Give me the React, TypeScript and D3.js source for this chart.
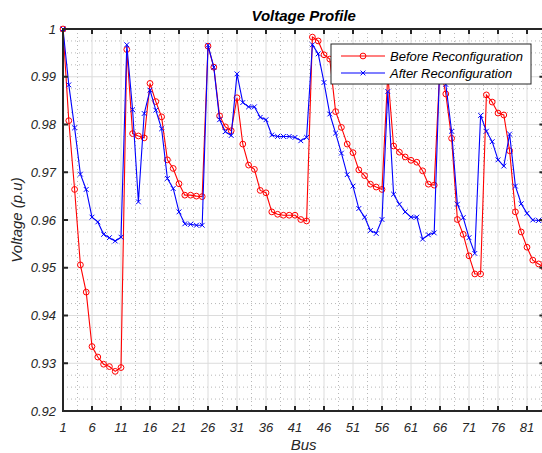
import React from "react";
import * as d3 from "d3";

const buses: number[] = Array.from({ length: 84 }, (_, i) => i + 1);

const beforeReconfig: number[] = [
  1.0, 0.9808, 0.9664, 0.9506, 0.9449, 0.9335, 0.9313, 0.9298, 0.9293, 0.9283,
  0.9291, 0.9957, 0.9781, 0.9776, 0.9772, 0.9886, 0.9848, 0.9816, 0.9726, 0.9708,
  0.9676, 0.9652, 0.9652, 0.965, 0.9649, 0.9964, 0.992, 0.9818, 0.9795, 0.9787,
  0.9856, 0.9759, 0.9715, 0.9706, 0.9662, 0.9657, 0.9617, 0.9612, 0.961, 0.961,
  0.961, 0.9601, 0.9598, 0.9983, 0.9975, 0.9946, 0.9937, 0.9827, 0.9794, 0.9759,
  0.9741, 0.9705, 0.9693, 0.9675, 0.9669, 0.9664, 0.9905, 0.9755, 0.9742, 0.9732,
  0.9725, 0.9721, 0.9703, 0.9675, 0.9673, 0.9925, 0.9864, 0.9771, 0.9601, 0.957,
  0.9525, 0.9487, 0.9487, 0.9862, 0.9847, 0.9824, 0.982, 0.9745, 0.9617, 0.9575,
  0.9543, 0.9516, 0.9508, 0.95,
];

const afterReconfig: number[] = [
  1.0, 0.9883, 0.9793, 0.9696, 0.9664, 0.9606, 0.9596, 0.957, 0.9563, 0.9556,
  0.9564, 0.9967, 0.9831, 0.9638, 0.9823, 0.9872, 0.983, 0.9791, 0.9687, 0.9666,
  0.9617, 0.9592, 0.9591, 0.9589, 0.9589, 0.9966, 0.992, 0.981, 0.9785, 0.9777,
  0.9906, 0.9846, 0.9837, 0.9837, 0.9815, 0.981, 0.9778, 0.9775, 0.9775, 0.9775,
  0.9773, 0.9766, 0.9773, 0.9967, 0.9948, 0.9888, 0.9822, 0.9782, 0.974, 0.9695,
  0.9671, 0.9624, 0.9606, 0.9578, 0.9572, 0.9601, 0.9869, 0.9654, 0.9633, 0.9617,
  0.9606, 0.9606, 0.956, 0.9569, 0.9573, 0.994, 0.9884, 0.9786, 0.9633, 0.9605,
  0.9563, 0.953, 0.9819, 0.9786, 0.9764, 0.9726, 0.9713, 0.978, 0.9671, 0.9634,
  0.9614, 0.96, 0.9599, 0.96,
];

const xTicks: number[] = [1, 6, 11, 16, 21, 26, 31, 36, 41, 46, 51, 56, 61, 66, 71, 76, 81];
const yTicks: number[] = [0.92, 0.93, 0.94, 0.95, 0.96, 0.97, 0.98, 0.99, 1.0];
const yTickLabels: string[] = ["0.92", "0.93", "0.94", "0.95", "0.96", "0.97", "0.98", "0.99", "1"];
const seriesNames: string[] = ["Before Reconfiguration", "After Reconfiguration"];

const W = 542;
const H = 453;
const L = 63;
const R = 544.4;
const T = 29;
const B = 411;
const FONT = "'Liberation Sans', Arial, Helvetica, sans-serif";
const AX = "#262626";

export default function App() {
  const x = d3.scaleLinear().domain([1, 84]).range([L, R]);
  const y = d3.scaleLinear().domain([0.92, 1.0]).range([B, T]);

  const minorX: number[] = d3.range(3.5, 84, 5);
  const minorY: number[] = d3.range(0, 33).map((i) => 0.92 + i * 0.0025).filter((_, i) => i % 4 !== 0);

  const line = d3
    .line<number>()
    .x((_, i) => x(buses[i]))
    .y((d) => y(d));

  const redPath = line(beforeReconfig) || "";
  const bluePath = line(afterReconfig) || "";

  const xMark = (cx: number, cy: number, s: number, key: string | number) => (
    <path
      key={key}
      d={`M${cx - s},${cy - s}L${cx + s},${cy + s}M${cx - s},${cy + s}L${cx + s},${cy - s}`}
      stroke="#0000ff"
      strokeWidth={1}
      fill="none"
    />
  );

  return (
    <svg
      width={W}
      height={H}
      style={{ position: "fixed", left: 0, top: 0, background: "#fff" }}
      fontFamily={FONT}
    >
      <rect x={0} y={0} width={W} height={H} fill="#fff" />
      {/* minor grid */}
      {minorX.map((v) => (
        <line key={"mx" + v} x1={x(v)} x2={x(v)} y1={T} y2={B} stroke="#b8b8b8" strokeWidth={1} strokeDasharray="1 3" />
      ))}
      {minorY.map((v) => (
        <line key={"my" + v} x1={L} x2={R} y1={y(v)} y2={y(v)} stroke="#b8b8b8" strokeWidth={1} strokeDasharray="1 3" />
      ))}
      {/* major grid */}
      {xTicks.map((v) => (
        <line key={"gx" + v} x1={x(v)} x2={x(v)} y1={T} y2={B} stroke="#dcdcdc" strokeWidth={1} />
      ))}
      {yTicks.map((v) => (
        <line key={"gy" + v} x1={L} x2={R} y1={y(v)} y2={y(v)} stroke="#dcdcdc" strokeWidth={1} />
      ))}

      {/* series */}
      <path d={redPath} fill="none" stroke="#ff0000" strokeWidth={1.1} />
      {beforeReconfig.map((v, i) => (
        <circle key={"r" + i} cx={x(buses[i])} cy={y(v)} r={2.9} fill="none" stroke="#ff0000" strokeWidth={1} />
      ))}
      <path d={bluePath} fill="none" stroke="#0000ff" strokeWidth={1.1} />
      {afterReconfig.map((v, i) => xMark(x(buses[i]), y(v), 2.4, "b" + i))}

      {/* axes box */}
      <rect x={L} y={T} width={R - L} height={B - T} fill="none" stroke={AX} strokeWidth={2} />
      {xTicks.map((v) => (
        <g key={"tx" + v}>
          <line x1={x(v)} x2={x(v)} y1={B} y2={B - 5} stroke={AX} strokeWidth={2} />
          <line x1={x(v)} x2={x(v)} y1={T} y2={T + 5} stroke={AX} strokeWidth={2} />
          <text x={x(v)} y={432} textAnchor="middle" fontSize={13} fontStyle="italic" fill={AX}>
            {v}
          </text>
        </g>
      ))}
      {yTicks.map((v, i) => (
        <g key={"ty" + v}>
          <line x1={L} x2={L + 5} y1={y(v)} y2={y(v)} stroke={AX} strokeWidth={2} />
          <line x1={R} x2={R - 5} y1={y(v)} y2={y(v)} stroke={AX} strokeWidth={2} />
          <text x={56} y={y(v) + 4.6} textAnchor="end" fontSize={13} fontStyle="italic" fill={AX}>
            {yTickLabels[i]}
          </text>
        </g>
      ))}

      {/* title & labels */}
      <text x={(L + R) / 2} y={21} textAnchor="middle" fontSize={15} fontWeight="bold" fontStyle="italic" fill="#000">
        Voltage Profile
      </text>
      <text x={(L + R) / 2} y={450} textAnchor="middle" fontSize={15} fontStyle="italic" fill={AX}>
        Bus
      </text>
      <text
        transform={`translate(22,${(T + B) / 2}) rotate(-90)`}
        textAnchor="middle"
        fontSize={15}
        fontStyle="italic"
        fill={AX}
      >
        Voltage (p.u)
      </text>

      {/* legend */}
      <rect x={331} y={44} width={200} height={40} fill="#fff" stroke={AX} strokeWidth={1} />
      <line x1={341} x2={385} y1={56} y2={56} stroke="#ff0000" strokeWidth={1.1} />
      <circle cx={363} cy={56} r={2.9} fill="none" stroke="#ff0000" strokeWidth={1} />
      <text x={390} y={60.5} fontSize={13} fontStyle="italic" fill="#000">
        {seriesNames[0]}
      </text>
      <line x1={341} x2={385} y1={73} y2={73} stroke="#0000ff" strokeWidth={1.1} />
      {xMark(363, 73, 2.4, "legx")}
      <text x={390} y={77.5} fontSize={13} fontStyle="italic" fill="#000">
        {seriesNames[1]}
      </text>
    </svg>
  );
}
